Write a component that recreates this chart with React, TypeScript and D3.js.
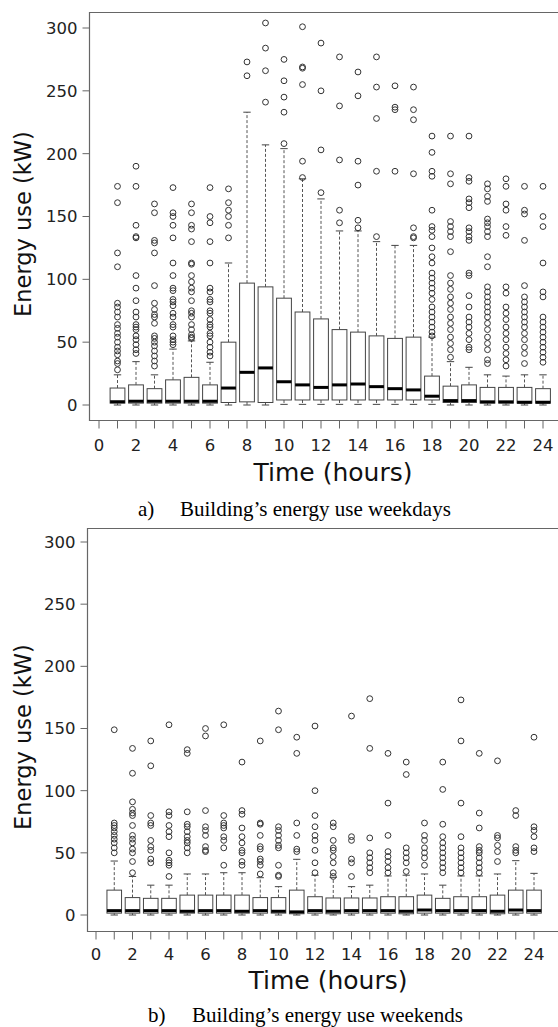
import React from 'react';
import * as d3 from 'd3';

// hours on the x axis
const hours = d3.range(1, 25);
const xTicks = d3.range(0, 25, 2);
const yTicks = [0, 50, 100, 150, 200, 250, 300];

// weekdays: box stats per hour
const wdLow = [0, 0, 0, 0, 0, 0, 0, 0, 0, 0.5, 0.5, 0.5, 0.5, 0.5, 0.5, 0.5, 0.5, 0.5, 0, 0, 0, 0, 0, 0];
const wdQ1 = [1.5, 1.5, 1.5, 1.5, 1.5, 1.5, 2, 2.5, 2, 4, 4, 4, 4, 4, 4, 4, 4, 4, 2, 2, 1.5, 1.5, 1.5, 1.5];
const wdMed = [2.6, 3, 3, 3, 3, 3, 13.5, 26, 29.5, 18.5, 16, 14, 16, 16.7, 14.6, 13, 12, 7, 3.5, 3.5, 2.5, 2.5, 2.2, 2.2];
const wdQ3 = [13.5, 16, 13, 20, 22, 16, 50, 97, 94, 85, 74, 68.5, 60, 58, 55, 53, 54, 23, 15, 16, 14, 14, 14, 13];
const wdHigh = [24, 34.5, 24, 44.5, 51, 34, 113, 233, 207, 204, 180, 164, 138.5, 138.5, 130, 127, 127, 54, 34.5, 30, 24, 23, 24, 24];
const wdOut = [
  [174, 161, 121, 110, 81, 78, 74, 70, 64, 61, 57, 54, 50, 46, 43, 40, 35, 33, 28],
  [190, 174, 143, 134, 133, 103, 93, 83, 74, 70, 64, 62, 60, 55, 52, 48, 44, 41],
  [160, 153, 131, 129, 121, 95, 81, 76, 72, 70, 65, 55, 53, 50, 47, 43, 39, 35, 31],
  [173, 153, 150, 143, 133, 113, 103, 93, 91, 84, 82, 79, 73, 70, 64, 62, 55, 52, 50, 48],
  [160, 153, 143, 140, 130, 113, 112, 103, 98, 93, 90, 83, 75, 73, 70, 64, 60, 56, 54, 53],
  [173, 150, 145, 130, 113, 93, 90, 84, 82, 75, 73, 68, 64, 62, 57, 55, 50, 46, 42, 39],
  [172, 161, 155, 150, 143, 133],
  [273, 262],
  [304, 284, 266, 241],
  [275, 258, 245, 233, 208],
  [301, 269, 268, 255, 194, 181],
  [288, 250, 203, 169],
  [277, 238, 195, 155, 145],
  [265, 246, 194, 175, 147, 141],
  [277, 253, 228, 186, 134],
  [254, 237, 235, 186],
  [253, 235, 227, 184, 141, 134, 133],
  [214, 201, 186, 182, 155, 142, 139, 134, 125, 118, 113, 105, 101, 97, 93, 89, 84, 78, 74, 70, 66, 62, 58, 55],
  [214, 184, 176, 146, 142, 138, 134, 122, 103, 97, 92, 86, 81, 76, 70, 65, 60, 54, 49, 44, 38],
  [214, 181, 178, 164, 161, 157, 141, 138, 134, 131, 105, 103, 87, 78, 70, 66, 62, 57, 52, 46, 44],
  [176, 172, 166, 162, 148, 145, 142, 138, 134, 118, 110, 94, 90, 86, 82, 78, 74, 70, 65, 60, 54, 49, 44, 36, 33],
  [180, 174, 160, 155, 142, 135, 94, 89, 78, 73, 68, 62, 57, 52, 46, 41, 36, 31],
  [174, 155, 152, 131, 95, 86, 82, 78, 74, 70, 66, 62, 57, 52, 46, 41, 33],
  [174, 150, 142, 113, 90, 86, 70, 66, 62, 58, 54, 50, 46, 42, 38, 34],
];

// weekends: box stats per hour
const weLow = [0, 0, 0, 0, 0, 0, 0, 0, 0, 0, 0, 0, 0, 0, 0, 0, 0, 0, 0, 0, 0, 0, 0, 0];
const weQ1 = [1.5, 1.5, 1.5, 1.5, 1.5, 1.5, 1.5, 1.5, 1.5, 1.5, 1, 1.5, 1, 1.5, 1.5, 1.5, 1, 1.5, 1.5, 1.5, 1.5, 1, 1.5, 1.5];
const weMed = [3.5, 3.5, 3.5, 3.5, 3, 3.5, 3.5, 3, 3.5, 3, 2.5, 3.5, 3, 3.5, 3.5, 3.5, 3, 4, 3.5, 3.5, 3.5, 3, 4, 3.5];
const weQ3 = [20, 14, 13.4, 13.4, 16, 16, 16, 16, 14, 14, 20, 14.7, 13.7, 13.7, 13.7, 14.7, 14.7, 16, 13.4, 14.7, 14.7, 16, 20, 20];
const weHigh = [43.4, 31, 24, 24, 33, 33, 34, 34, 30, 22.8, 44.8, 32, 30.3, 22.8, 24, 31.4, 32, 33, 24, 31.4, 31.4, 33, 43.7, 33.5];
const weOut = [
  [149, 74, 72, 70, 67, 64, 61, 58, 54, 50],
  [134, 114, 91, 85, 82, 80, 72, 64, 61, 58, 53, 50, 43, 34],
  [140, 120, 80, 74, 72, 60, 55, 52, 45, 42],
  [153, 83, 80, 72, 67, 63, 50, 44, 42, 40, 31],
  [133, 130, 83, 73, 71, 67, 63, 60, 58, 54, 50],
  [150, 144, 84, 71, 68, 64, 55, 52, 51],
  [153, 80, 74, 72, 70, 63, 60, 54, 40],
  [123, 84, 81, 70, 63, 58, 52, 50, 43, 40],
  [140, 74, 73, 64, 55, 53, 45, 43, 40, 33],
  [164, 149, 71, 68, 64, 60, 56, 54, 40, 32, 31],
  [143, 130, 74, 64, 53, 51],
  [152, 100, 80, 71, 64, 60, 52, 42, 34],
  [74, 71, 60, 54, 52, 47, 42, 34, 31],
  [160, 63, 60, 45, 42, 31],
  [174, 134, 62, 50, 46, 42, 38, 34],
  [130, 90, 64, 51, 47, 43, 38, 34],
  [123, 113, 54, 50, 46, 42, 35],
  [74, 64, 60, 54, 50, 46, 40],
  [123, 101, 73, 63, 58, 54, 50, 46, 42, 38, 34],
  [173, 140, 90, 63, 54, 50, 46, 42, 38, 34],
  [130, 82, 70, 55, 52, 50, 46, 42, 38, 34],
  [124, 64, 62, 56, 51, 43],
  [84, 80, 55, 52, 50],
  [143, 71, 68, 63, 54, 51],
];

const W = 558;
const H = 1027;
const sans = '"DejaVu Sans", Verdana, sans-serif';
const serif = '"Liberation Serif", "Times New Roman", serif';

type PanelProps = {
  frame: { left: number; top: number; bottom: number; right: number };
  xRange: [number, number];
  yRange: [number, number];
  low: number[];
  q1: number[];
  med: number[];
  q3: number[];
  high: number[];
  outs: number[][];
  labelY: number;
  titleX: number;
  titleBase: number;
  tickBase: number;
  caption: string;
  captionTag: string;
  captionX: number;
  captionGap: number;
  captionBase: number;
};

function Panel(p: PanelProps) {
  const x = d3.scaleLinear().domain([0, 24]).range(p.xRange);
  const y = d3.scaleLinear().domain([0, 300]).range(p.yRange);
  const bw = (x(1) - x(0)) * 0.8;
  const f = p.frame;
  return (
    <g>
      {/* frame */}
      <path
        d={`M${f.right},${f.top}H${f.left}V${f.bottom}H${f.right}`}
        fill="none"
        stroke="#666"
        strokeWidth={1.2}
      />
      {/* y axis */}
      {yTicks.map((t) => (
        <g key={t}>
          <line x1={f.left - 7} x2={f.left} y1={y(t)} y2={y(t)} stroke="#666" />
          <text x={f.left - 12} y={y(t)} dy="0.36em" textAnchor="end" fontFamily={sans} fontSize={16.5} fill="#222">
            {t}
          </text>
        </g>
      ))}
      {/* x axis */}
      {d3.range(0, 25).map((h) => (
        <line key={h} x1={x(h)} x2={x(h)} y1={f.bottom} y2={f.bottom + 8} stroke="#666" />
      ))}
      {xTicks.map((t) => (
        <text key={t} x={x(t)} y={p.tickBase} textAnchor="middle" fontFamily={sans} fontSize={16.5} fill="#222">
          {t}
        </text>
      ))}
      <text
        transform={`translate(31,${p.labelY}) rotate(-90)`}
        textAnchor="middle"
        fontFamily={sans}
        fontSize={22.5}
        fill="#111"
      >
        Energy use (kW)
      </text>
      <text x={p.titleX} y={p.titleBase} textAnchor="middle" fontFamily={sans} fontSize={25} fill="#111">
        Time (hours)
      </text>
      {/* boxes */}
      {hours.map((h, i) => {
        const cx = x(h);
        return (
          <g key={h}>
            <line x1={cx} x2={cx} y1={y(p.q3[i])} y2={y(p.high[i])} stroke="#555" strokeDasharray="3,2" />
            <line x1={cx} x2={cx} y1={y(p.q1[i])} y2={y(p.low[i])} stroke="#555" strokeDasharray="3,2" />
            <line x1={cx - bw / 4} x2={cx + bw / 4} y1={y(p.high[i])} y2={y(p.high[i])} stroke="#444" />
            <line x1={cx - bw / 4} x2={cx + bw / 4} y1={y(p.low[i])} y2={y(p.low[i])} stroke="#444" />
            <rect
              x={cx - bw / 2}
              y={y(p.q3[i])}
              width={bw}
              height={y(p.q1[i]) - y(p.q3[i])}
              fill="#fff"
              stroke="#444"
              strokeWidth={1}
            />
            <line x1={cx - bw / 2} x2={cx + bw / 2} y1={y(p.med[i])} y2={y(p.med[i])} stroke="#000" strokeWidth={3} />
            {p.outs[i].map((v, k) => (
              <circle key={k} cx={cx} cy={y(v)} r={2.9} fill="none" stroke="#333" strokeWidth={1} />
            ))}
          </g>
        );
      })}
      {/* caption */}
      <text x={p.captionX} y={p.captionBase} fontFamily={serif} fontSize={21} fill="#000">
        {p.captionTag}
      </text>
      <text x={p.captionX + p.captionGap} y={p.captionBase} fontFamily={serif} fontSize={21} fill="#000">
        {p.caption}
      </text>
    </g>
  );
}

export default function App() {
  return (
    <div style={{ position: 'absolute', left: 0, top: 0 }}>
      <svg width={W} height={H} style={{ display: 'block', background: '#fff' }}>
        <Panel
          frame={{ left: 89.5, top: 12.5, bottom: 420.5, right: 559 }}
          xRange={[99, 543]}
          yRange={[405, 28]}
          low={wdLow}
          q1={wdQ1}
          med={wdMed}
          q3={wdQ3}
          high={wdHigh}
          outs={wdOut}
          labelY={224}
          titleX={333}
          titleBase={481}
          tickBase={451}
          caption="Building’s energy use weekdays"
          captionTag="a)"
          captionX={138}
          captionGap={42}
          captionBase={516}
        />
        <Panel
          frame={{ left: 87.5, top: 528.5, bottom: 931.5, right: 559 }}
          xRange={[96, 534]}
          yRange={[915, 542]}
          low={weLow}
          q1={weQ1}
          med={weMed}
          q3={weQ3}
          high={weHigh}
          outs={weOut}
          labelY={737}
          titleX={328}
          titleBase={989}
          tickBase={960}
          caption="Building’s energy use weekends"
          captionTag="b)"
          captionX={148}
          captionGap={44}
          captionBase={1022}
        />
      </svg>
    </div>
  );
}
